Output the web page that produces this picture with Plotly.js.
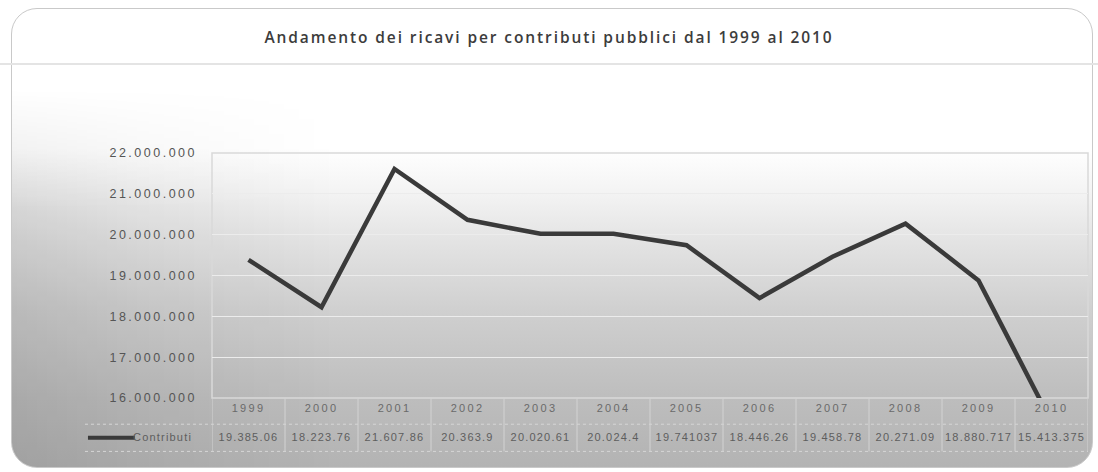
<!DOCTYPE html>
<html>
<head>
<meta charset="utf-8">
<script src="https://cdn.plot.ly/plotly-3.0.1.min.js"></script>
<style>
  html, body { margin:0; padding:0; background:#ffffff; }
  #wrap { position:relative; width:1098px; height:472px; overflow:hidden; background:#fff; }
  #panel { position:absolute; left:11px; top:8px; width:1080px; height:458px;
    border:1px solid #c9c9c9; border-radius:26px; overflow:hidden;
    background: linear-gradient(to bottom, #ffffff 0px, #ffffff 140px, #f3f3f3 185px, #e4e4e4 230px, #d0d0d0 300px, #bdbdbd 390px, #b3b3b3 458px); }
  #shade { position:absolute; left:0; top:0; width:100%; height:100%;
    background: linear-gradient(to right, rgba(0,0,0,0.10) 0%, rgba(0,0,0,0.05) 12%, rgba(0,0,0,0) 30%);
    -webkit-mask-image: linear-gradient(to bottom, transparent 0px, transparent 80px, black 200px, black 100%);
    mask-image: linear-gradient(to bottom, transparent 0px, transparent 80px, black 200px, black 100%); }
  #sep { position:absolute; left:0; top:63px; width:1098px; height:2px; background:#e4e4e4; }
  #chart { position:absolute; left:0; top:0; width:1098px; height:472px; }
  #chart .gtitle { letter-spacing: 1.9px; }
  #chart .ytick text { letter-spacing: 2.5px; }
  #chart .xtick text { letter-spacing: 2.3px; }
  #chart .annotation-text { letter-spacing: 1.2px; }
</style>
</head>
<body>
<div id="wrap">
  <div id="panel"><div id="shade"></div></div>
  <div id="sep"></div>
  <div id="chart"></div>
</div>
<script>
const years = ["1999","2000","2001","2002","2003","2004","2005","2006","2007","2008","2009","2010"];
const contributi = [19385060, 18223760, 21607860, 20363900, 20020610, 20024400, 19741037, 18446260, 19458780, 20271090, 18880717, 15413375];
const tableLabels = ["19.385.06","18.223.76","21.607.86","20.363.9","20.020.61","20.024.4","19.741037","18.446.26","19.458.78","20.271.09","18.880.717","15.413.375"];
const seriesName = "Contributi";
const titleText = "Andamento dei ricavi per contributi pubblici dal 1999 al 2010";

const idx = years.map((_, i) => i);

const trace = {
  x: idx, y: contributi, type: "scatter", mode: "lines", name: seriesName,
  line: { color: "#3a3a3a", width: 4.5 }, cliponaxis: true, showlegend: false
};

const tFont = { family: "Liberation Sans, Arial", size: 11, color: "#5e5e5e" };
const valY = -0.19;
const annotations = [];
const shapes = [];
// values row of data table
idx.forEach((i) => {
  annotations.push({ x: i, xref: "x", y: valY, yref: "paper", text: tableLabels[i],
    showarrow: false, font: tFont });
});
// legend key in table
annotations.push({ x: -0.0856, xref: "paper", y: valY, yref: "paper", text: seriesName,
  showarrow: false, xanchor: "left", font: tFont });
shapes.push({ type: "line", xref: "paper", yref: "paper", x0: -0.1416, x1: -0.088, y0: -0.162, y1: -0.162,
  line: { color: "#3a3a3a", width: 4 } });
// table horizontal lines
[-0.107, -0.218].forEach(yy => {
  shapes.push({ type: "line", xref: "paper", yref: "paper", x0: -0.145, x1: 1.0, y0: yy, y1: yy,
    line: { color: "#d6d6d6", width: 1, dash: "dot" } });
});
// table column separators
for (let i = 0; i <= years.length; i++) {
  shapes.push({ type: "line", xref: "x", yref: "paper", x0: i - 0.5, x1: i - 0.5, y0: -0.218, y1: 0,
    line: { color: "#d3d3d3", width: 1 } });
}

const layout = {
  width: 1098, height: 472,
  margin: { l: 212, r: 10, t: 153, b: 74 },
  paper_bgcolor: "rgba(0,0,0,0)", plot_bgcolor: "rgba(0,0,0,0)",
  separators: ",.",
  title: { text: titleText, x: 0.5, xanchor: "center", y: 0.921, yanchor: "middle",
    font: { family: "Open Sans, Lato, sans-serif", size: 15.5, weight: 600, color: "#3c3c3c" } },
  xaxis: { range: [-0.5, 11.5], tickvals: idx, ticktext: years, showgrid: false, zeroline: false,
    showline: false, ticks: "", tickfont: { family: "Liberation Sans, Arial", size: 11, color: "#6a6a6a" },
    ticklabelstandoff: 2, fixedrange: true },
  yaxis: { range: [16000000, 22000000], dtick: 1000000, tickformat: ",d", showgrid: true,
    gridcolor: "#ececec", gridwidth: 1, zeroline: false, showline: false, ticks: "",
    tickfont: { family: "Liberation Sans, Arial", size: 12.5, color: "#555555" }, ticklabelstandoff: 14, fixedrange: true },
  shapes: shapes.concat([{ type: "rect", xref: "paper", yref: "paper", x0: 0, x1: 1, y0: 0, y1: 1,
    line: { color: "#d9d9d9", width: 1.5 }, layer: "below" }]),
  annotations: annotations,
  showlegend: false
};

Plotly.newPlot("chart", [trace], layout, { displayModeBar: false, staticPlot: true });
</script>
</body>
</html>
